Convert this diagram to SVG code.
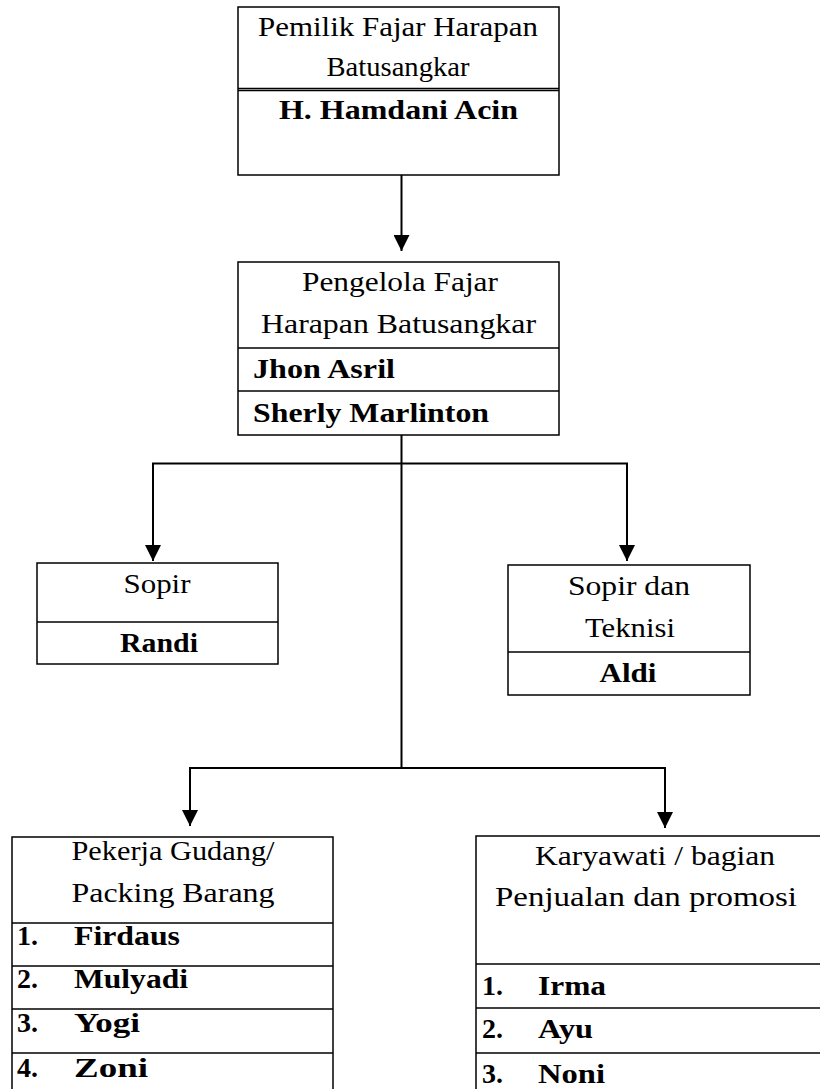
<svg xmlns="http://www.w3.org/2000/svg" width="820" height="1089" viewBox="0 0 820 1089">
<style>
.box{fill:#fff;stroke:#000;stroke-width:1.5}
.div{stroke:#000;stroke-width:1.5}
.con{fill:none;stroke:#000;stroke-width:2}
text{font-family:'Liberation Serif','Times New Roman',serif;font-size:28px;fill:#000}
.c{text-anchor:middle}
.b{font-weight:bold}
</style>
<defs>
<marker id="arr" markerUnits="userSpaceOnUse" markerWidth="16" markerHeight="16" refX="16" refY="8" orient="auto">
<path d="M0,0 L16,8 L0,16 z" fill="#000"/>
</marker>
</defs>
<rect width="820" height="1089" fill="#fff"/>
<g id="connectors">
<line class="con" x1="401.5" y1="175" x2="401.5" y2="251" marker-end="url(#arr)"/>
<line class="con" x1="401.5" y1="435" x2="401.5" y2="768"/>
<polyline class="con" points="153,561 153,463.5 627,463.5 627,561" marker-end="url(#arr)"/>
<line class="con" x1="153" y1="463.5" x2="153" y2="561" marker-end="url(#arr)"/>
<polyline class="con" points="190,826 190,768 665,768 665,828" marker-end="url(#arr)"/>
<line class="con" x1="190" y1="768" x2="190" y2="826" marker-end="url(#arr)"/>
</g>
<g id="pemilik">
<rect class="box" x="238" y="7" width="321" height="168"/>
<line class="div" x1="238" y1="88.5" x2="559" y2="88.5"/>
<line class="div" x1="238" y1="90.5" x2="559" y2="90.5"/>
<text class="c" x="398" y="36" textLength="280" lengthAdjust="spacingAndGlyphs">Pemilik Fajar Harapan</text>
<text class="c" x="398" y="76" textLength="143" lengthAdjust="spacingAndGlyphs">Batusangkar</text>
<text class="c b" x="398.5" y="119" textLength="239" lengthAdjust="spacingAndGlyphs">H. Hamdani Acin</text>
</g>
<g id="pengelola">
<rect class="box" x="238" y="262" width="321" height="173"/>
<line class="div" x1="238" y1="348" x2="559" y2="348"/>
<line class="div" x1="238" y1="391" x2="559" y2="391"/>
<text class="c" x="400" y="291" textLength="196" lengthAdjust="spacingAndGlyphs">Pengelola Fajar</text>
<text class="c" x="398.5" y="333" textLength="275" lengthAdjust="spacingAndGlyphs">Harapan Batusangkar</text>
<text class="b" x="253" y="378" textLength="142" lengthAdjust="spacingAndGlyphs">Jhon Asril</text>
<text class="b" x="253" y="422" textLength="236" lengthAdjust="spacingAndGlyphs">Sherly Marlinton</text>
</g>
<g id="sopir">
<rect class="box" x="37" y="563" width="241" height="101"/>
<line class="div" x1="37" y1="622" x2="278" y2="622"/>
<text class="c" x="157" y="593" textLength="67" lengthAdjust="spacingAndGlyphs">Sopir</text>
<text class="c b" x="159" y="652" textLength="78" lengthAdjust="spacingAndGlyphs">Randi</text>
</g>
<g id="sopir-teknisi">
<rect class="box" x="508" y="565" width="242" height="130"/>
<line class="div" x1="508" y1="652" x2="750" y2="652"/>
<text class="c" x="629" y="595" textLength="122" lengthAdjust="spacingAndGlyphs">Sopir dan</text>
<text class="c" x="630" y="637" textLength="90" lengthAdjust="spacingAndGlyphs">Teknisi</text>
<text class="c b" x="628" y="682" textLength="57" lengthAdjust="spacingAndGlyphs">Aldi</text>
</g>
<g id="gudang">
<rect class="box" x="12" y="837" width="321" height="270"/>
<line class="div" x1="12" y1="923" x2="333" y2="923"/>
<line class="div" x1="12" y1="966" x2="333" y2="966"/>
<line class="div" x1="12" y1="1009" x2="333" y2="1009"/>
<line class="div" x1="12" y1="1053" x2="333" y2="1053"/>
<text class="c" x="173" y="860" textLength="203" lengthAdjust="spacingAndGlyphs">Pekerja Gudang/</text>
<text class="c" x="173" y="902" textLength="203" lengthAdjust="spacingAndGlyphs">Packing Barang</text>
<text class="b" x="17" y="945">1.</text>
<text class="b" x="74" y="945" textLength="106" lengthAdjust="spacingAndGlyphs">Firdaus</text>
<text class="b" x="17" y="988">2.</text>
<text class="b" x="74" y="988" textLength="114" lengthAdjust="spacingAndGlyphs">Mulyadi</text>
<text class="b" x="17" y="1032">3.</text>
<text class="b" x="74" y="1032" textLength="66" lengthAdjust="spacingAndGlyphs">Yogi</text>
<text class="b" x="17" y="1077">4.</text>
<text class="b" x="74" y="1077" textLength="74" lengthAdjust="spacingAndGlyphs">Zoni</text>
</g>
<g id="penjualan">
<rect class="box" x="476" y="836" width="360" height="270"/>
<line class="div" x1="476" y1="964" x2="836" y2="964"/>
<line class="div" x1="476" y1="1008" x2="836" y2="1008"/>
<line class="div" x1="476" y1="1053" x2="836" y2="1053"/>
<text class="c" x="655" y="865" textLength="240" lengthAdjust="spacingAndGlyphs">Karyawati / bagian</text>
<text class="c" x="646" y="906" textLength="302" lengthAdjust="spacingAndGlyphs">Penjualan dan promosi</text>
<text class="b" x="482" y="995">1.</text>
<text class="b" x="538" y="995" textLength="68" lengthAdjust="spacingAndGlyphs">Irma</text>
<text class="b" x="482" y="1038">2.</text>
<text class="b" x="538" y="1038" textLength="55" lengthAdjust="spacingAndGlyphs">Ayu</text>
<text class="b" x="482" y="1083">3.</text>
<text class="b" x="538" y="1083" textLength="67" lengthAdjust="spacingAndGlyphs">Noni</text>
</g>
</svg>
